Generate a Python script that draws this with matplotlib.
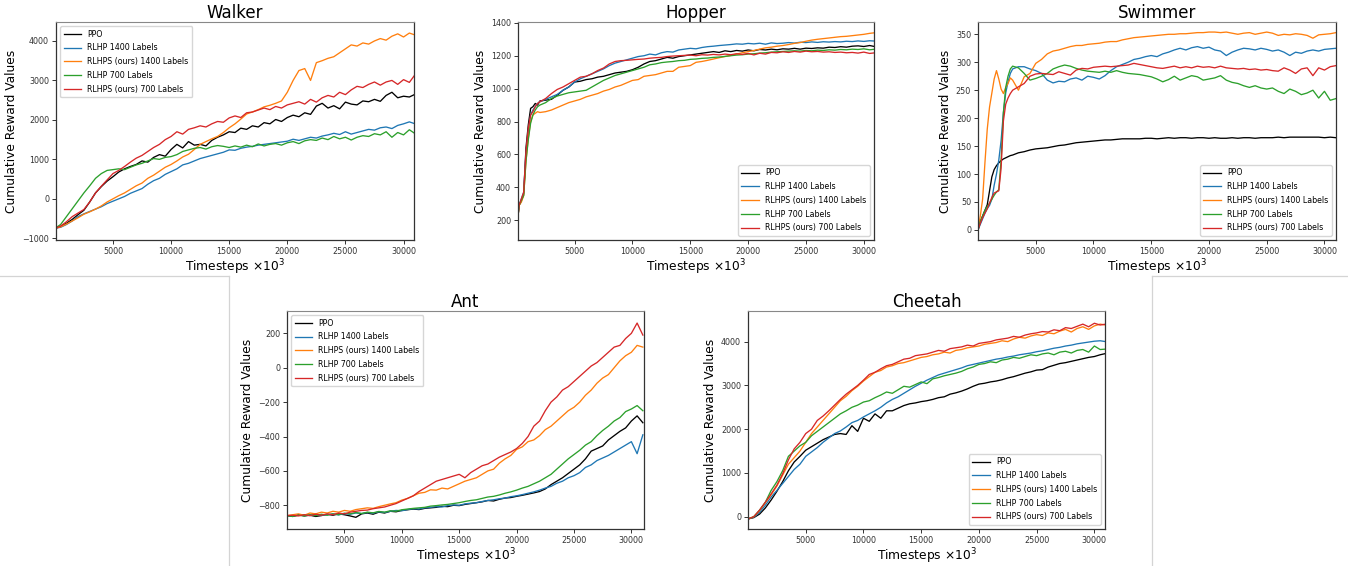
import numpy as np
import matplotlib
matplotlib.use("Agg")
import matplotlib.pyplot as plt
from matplotlib.lines import Line2D

# ---------------- data ----------------
labels = ["PPO", "RLHP 1400 Labels", "RLHPS (ours) 1400 Labels",
          "RLHP 700 Labels", "RLHPS (ours) 700 Labels"]
colors = ["black", "#1f77b4", "#ff7f0e", "#2ca02c", "#d62728"]

steps = np.arange(0, 31001, 500)
hopper_steps = np.concatenate([np.arange(0, 2000, 200), np.arange(2000, 31001, 500)])
swim_steps = np.concatenate([np.arange(0, 3000, 200), np.arange(3000, 31001, 500)])

walker_ppo = [-750, -700, -620, -520, -400, -290, -80, 150, 310, 450,
              560, 680, 760, 820, 870, 960, 930, 1050, 1120, 1080,
              1250, 1380, 1290, 1450, 1360, 1380, 1340, 1480, 1560, 1620,
              1700, 1680, 1790, 1760, 1850, 1820, 1930, 1900, 2010, 1960,
              2060, 2120, 2080, 2180, 2140, 2350, 2420, 2300, 2360, 2280,
              2450, 2400, 2380, 2480, 2460, 2520, 2470, 2620, 2700, 2560,
              2600, 2580, 2650]
walker_rlhp1400 = [-750, -720, -650, -560, -450, -380, -320, -260, -200, -120,
                   -60, 0, 60, 140, 200, 260, 370, 460, 520, 620,
                   690, 760, 860, 900, 960, 1020, 1060, 1100, 1140, 1180,
                   1240, 1230, 1280, 1310, 1330, 1360, 1380, 1400, 1420, 1440,
                   1460, 1510, 1480, 1520, 1560, 1540, 1590, 1620, 1660, 1630,
                   1700, 1640, 1680, 1720, 1760, 1740, 1800, 1820, 1780, 1860,
                   1900, 1950, 1900]
walker_rlhps1400 = [-750, -710, -640, -560, -480, -390, -330, -260, -180, -80,
                    0, 80, 150, 240, 330, 400, 520, 600, 700, 800,
                    870, 960, 1060, 1130, 1250, 1380, 1450, 1520, 1580, 1680,
                    1800, 1900, 2020, 2150, 2200, 2260, 2330, 2370, 2420, 2480,
                    2700, 3000, 3250, 3300, 3000, 3450, 3500, 3560, 3600, 3700,
                    3800, 3900, 3870, 3950, 3920, 4000, 4060, 4020, 4120, 4180,
                    4100, 4200, 4150]
walker_rlhp700 = [-750, -650, -450, -250, -50, 150, 330, 520, 640, 720,
                  740, 760, 740, 800, 860, 900, 960, 1020, 1000, 1050,
                  1070, 1120, 1200, 1240, 1280, 1300, 1260, 1320, 1350, 1330,
                  1300, 1340, 1310, 1360, 1320, 1390, 1340, 1380, 1400, 1360,
                  1420, 1450, 1400, 1470, 1500, 1480, 1540, 1500, 1580, 1520,
                  1560, 1490, 1560, 1600, 1580, 1650, 1620, 1700, 1560, 1680,
                  1620, 1750, 1650]
walker_rlhps700 = [-750, -690, -580, -450, -360, -270, -80, 150, 320, 480,
                   640, 720, 820, 930, 1030, 1100, 1200, 1300, 1380, 1500,
                   1580, 1700, 1640, 1760, 1800, 1850, 1820, 1900, 1960, 1940,
                   2050, 2100, 2060, 2180, 2200, 2250, 2300, 2260, 2340, 2300,
                   2380, 2420, 2460, 2400, 2520, 2450, 2560, 2620, 2580, 2700,
                   2640, 2760, 2850, 2820, 2900, 2960, 2880, 2960, 3000, 2900,
                   3020, 2950, 3150]

hopper_ppo = [140, 290, 320, 360, 640, 780, 880, 890, 910, 900,
              925, 930, 935, 960, 990, 1010, 1040, 1045, 1055, 1060,
              1070, 1075, 1085, 1095, 1100, 1105, 1115, 1130, 1150, 1165,
              1170, 1180, 1190, 1185, 1195, 1200, 1205, 1210, 1215, 1220,
              1225, 1220, 1230, 1225, 1232, 1228, 1235, 1230, 1238, 1235,
              1240, 1236, 1242, 1240, 1245, 1240, 1246, 1244, 1248, 1246,
              1252, 1250, 1255, 1252, 1258, 1260, 1256, 1262, 1255]
hopper_rlhp1400 = [140, 290, 330, 370, 600, 740, 840, 870, 890, 910,
                   920, 935, 950, 965, 990, 1010, 1040, 1060, 1075, 1090,
                   1105, 1120, 1140, 1155, 1165, 1175, 1185, 1195, 1200, 1210,
                   1205, 1218, 1225, 1222, 1235, 1240, 1245, 1242, 1250, 1255,
                   1258, 1262, 1265, 1268, 1272, 1270, 1275, 1272, 1276, 1270,
                   1278, 1274, 1276, 1280, 1277, 1282, 1280, 1284, 1281, 1285,
                   1283, 1286, 1284, 1288, 1286, 1290, 1287, 1291, 1289]
hopper_rlhps1400 = [140, 290, 310, 350, 560, 700, 800, 840, 850, 860,
                    855, 860, 870, 885, 900, 915, 925, 935, 950, 960,
                    970, 985, 995, 1010, 1020, 1035, 1050, 1055, 1075, 1080,
                    1085, 1095, 1105, 1105, 1130, 1135, 1140, 1160, 1165, 1172,
                    1180, 1188, 1195, 1202, 1210, 1218, 1225, 1232, 1240, 1248,
                    1252, 1258, 1262, 1268, 1275, 1280, 1288, 1295, 1300, 1304,
                    1308, 1312, 1316, 1318, 1322, 1326, 1330, 1336, 1340]
hopper_rlhp700 = [140, 290, 320, 350, 560, 690, 790, 840, 870, 890,
                  900, 915, 940, 955, 965, 975, 980, 985, 990, 1010,
                  1030, 1050, 1065, 1080, 1090, 1100, 1110, 1120, 1130, 1145,
                  1150, 1158, 1162, 1165, 1170, 1172, 1178, 1180, 1184, 1186,
                  1190, 1192, 1196, 1200, 1204, 1206, 1210, 1212, 1216, 1218,
                  1222, 1224, 1226, 1228, 1230, 1228, 1232, 1230, 1234, 1232,
                  1236, 1234, 1238, 1236, 1240, 1238, 1242, 1236, 1240]
hopper_rlhps700 = [140, 290, 330, 370, 620, 760, 840, 860, 890, 910,
                   920, 940, 970, 995, 1010, 1030, 1050, 1070, 1075, 1090,
                   1110, 1125, 1150, 1165, 1170, 1172, 1175, 1178, 1180, 1185,
                   1188, 1190, 1195, 1198, 1200, 1202, 1204, 1200, 1206, 1204,
                   1208, 1205, 1210, 1206, 1212, 1208, 1214, 1205, 1215, 1210,
                   1220, 1218, 1224, 1220, 1226, 1222, 1228, 1224, 1226, 1222,
                   1224, 1220, 1222, 1218, 1220, 1216, 1222, 1214, 1218]

swim_ppo = [0, 15, 25, 35, 45, 70, 95, 108, 115, 120, 124, 127, 129, 131, 133,
            134, 138, 140, 143, 145, 146, 147, 149, 151, 152,
            154, 156, 157, 158, 159, 160, 161, 161, 162, 163,
            163, 163, 163, 164, 164, 163, 164, 165, 164, 165,
            165, 164, 165, 165, 164, 165, 164, 164, 165, 164,
            165, 165, 164, 165, 165, 165, 166, 165, 166, 166,
            166, 166, 166, 166, 165, 166, 165]
swim_rlhp1400 = [0, 10, 20, 30, 38, 44, 55, 80, 100, 125, 160, 210, 245, 265, 280,
                 288, 292, 292, 288, 285, 280, 268, 263, 266, 265,
                 270, 272, 268, 275, 273, 270, 276, 285, 292, 296,
                 300, 305, 307, 310, 312, 310, 315, 318, 322, 325,
                 322, 326, 328, 325, 327, 322, 320, 312, 318, 322,
                 325, 324, 322, 325, 323, 320, 322, 318, 312, 318,
                 316, 320, 322, 320, 323, 324, 325]
swim_rlhps1400 = [0, 25, 55, 120, 180, 220, 245, 270, 285, 270, 252, 244, 255, 262, 272,
                  268, 250, 274, 280, 298, 305, 315, 320, 322, 325,
                  328, 330, 330, 332, 333, 334, 336, 337, 337, 340,
                  342, 344, 345, 346, 347, 348, 349, 350, 350, 351,
                  351, 352, 353, 353, 354, 354, 353, 354, 352, 350,
                  352, 353, 350, 352, 354, 352, 348, 350, 349, 351,
                  350, 348, 343, 349, 350, 351, 353]
swim_rlhp700 = [0, 15, 25, 35, 42, 48, 55, 62, 68, 72, 125, 210, 255, 275, 288,
                293, 290, 280, 268, 271, 275, 280, 288, 292, 295,
                293, 289, 286, 284, 283, 282, 284, 282, 285, 282,
                280, 279, 278, 276, 274, 270, 265, 269, 275, 268,
                272, 276, 274, 268, 270, 272, 276, 268, 264, 262,
                258, 255, 258, 254, 252, 254, 248, 244, 252, 248,
                242, 245, 250, 236, 248, 232, 235]
swim_rlhps700 = [0, 12, 22, 30, 38, 48, 58, 66, 68, 70, 110, 195, 225, 236, 244,
                 250, 256, 262, 275, 279, 280, 279, 278, 283, 280,
                 277, 286, 289, 288, 291, 292, 293, 292, 293, 294,
                 295, 298, 296, 294, 292, 290, 289, 291, 293, 290,
                 292, 290, 293, 291, 292, 290, 293, 290, 289, 288,
                 289, 287, 288, 286, 287, 285, 284, 290, 286, 280,
                 288, 290, 276, 290, 286, 292, 294]

ant_ppo = [-860, -865, -855, -862, -858, -865, -860, -852, -858, -850,
           -855, -862, -870, -850, -845, -852, -840, -845, -835, -838,
           -830, -826, -822, -825, -818, -815, -812, -806, -808, -800,
           -802, -795, -790, -785, -780, -772, -775, -765, -758, -755,
           -748, -742, -735, -728, -720, -705, -680, -660, -640, -615,
           -590, -565, -530, -485, -470, -455, -420, -395, -370, -350,
           -310, -280, -320]
ant_rlhp1400 = [-860, -862, -858, -855, -860, -852, -858, -855, -850, -856,
                -848, -852, -845, -848, -842, -846, -838, -842, -835, -830,
                -832, -825, -820, -822, -815, -812, -808, -810, -802, -798,
                -800, -792, -788, -785, -778, -772, -768, -762, -758, -750,
                -745, -738, -730, -722, -712, -700, -690, -672, -660, -640,
                -628, -610, -580, -565, -540, -525, -510, -490, -470, -450,
                -430, -500, -390]
ant_rlhps1400 = [-860, -855, -850, -858, -845, -850, -840, -845, -835, -840,
                 -830, -835, -825, -820, -815, -818, -808, -800, -792, -785,
                 -770, -760, -745, -730, -725, -710, -712, -700, -705, -690,
                 -675, -660, -650, -640, -620, -600, -590, -555, -530, -510,
                 -475, -460, -430, -420, -395, -360, -340, -310, -280, -250,
                 -230, -200, -160, -130, -90, -60, -40, 0, 40, 70,
                 90, 130, 120]
ant_rlhp700 = [-860, -865, -858, -862, -855, -860, -852, -858, -850, -855,
               -846, -850, -842, -848, -840, -844, -836, -840, -832, -835,
               -826, -822, -818, -815, -812, -805, -802, -798, -795, -790,
               -785, -778, -772, -768, -760, -752, -748, -740, -730, -722,
               -712, -700, -690, -675, -660, -640, -620, -590, -560, -530,
               -505, -480, -450, -430, -395, -365, -340, -310, -290, -255,
               -240, -220, -250]
ant_rlhps700 = [-860, -858, -862, -855, -860, -852, -858, -850, -855, -845,
                -850, -840, -835, -830, -828, -820, -815, -810, -800, -790,
                -775, -760, -745, -720, -700, -680, -660, -650, -640, -630,
                -620, -640, -610, -590, -570, -560, -540, -520, -505, -490,
                -470, -440, -400, -340, -310, -250, -200, -170, -130, -110,
                -80, -50, -20, 10, 30, 60, 90, 120, 130, 170,
                200, 260, 190]

cheetah_ppo = [-50, -20, 60, 200, 380, 580, 800, 1050, 1250, 1380,
               1520, 1600, 1680, 1760, 1820, 1880, 1900, 1880, 2080, 1950,
               2250, 2180, 2350, 2250, 2420, 2420, 2480, 2540, 2580, 2600,
               2630, 2650, 2680, 2720, 2740, 2800, 2830, 2870, 2920, 2980,
               3030, 3050, 3080, 3100, 3130, 3170, 3200, 3240, 3280, 3310,
               3350, 3360, 3420, 3460, 3500, 3520, 3550, 3580, 3610, 3640,
               3660, 3700, 3730]
cheetah_rlhp1400 = [-50, -10, 100, 260, 450, 600, 760, 920, 1080, 1200,
                    1380, 1480, 1580, 1700, 1800, 1900, 1960, 2050, 2150, 2200,
                    2280, 2350, 2420, 2500, 2600, 2680, 2740, 2820, 2900, 2980,
                    3050, 3120, 3180, 3240, 3280, 3320, 3360, 3400, 3450, 3480,
                    3510, 3540, 3570, 3600, 3620, 3650, 3670, 3700, 3720, 3740,
                    3770, 3790, 3820, 3850, 3870, 3900, 3920, 3950, 3970, 3990,
                    4010, 4020, 4000]
cheetah_rlhps1400 = [-50, 0, 140, 320, 500, 700, 950, 1200, 1350, 1500,
                     1700, 1900, 2050, 2200, 2350, 2500, 2650, 2750, 2880, 2980,
                     3100, 3200, 3300, 3340, 3420, 3450, 3500, 3520, 3560, 3600,
                     3640, 3660, 3700, 3720, 3760, 3740, 3800, 3820, 3860, 3880,
                     3900, 3940, 3960, 3980, 4020, 4000, 4060, 4100, 4080, 4130,
                     4160, 4140, 4200, 4180, 4240, 4280, 4220, 4300, 4340, 4280,
                     4360, 4400, 4380]
cheetah_rlhp700 = [-50, 0, 150, 330, 600, 800, 1050, 1380, 1500, 1620,
                   1700, 1850, 1950, 2050, 2150, 2250, 2350, 2420, 2500, 2550,
                   2620, 2650, 2720, 2780, 2850, 2820, 2900, 2980, 2960, 3020,
                   3080, 3040, 3150, 3180, 3220, 3250, 3280, 3320, 3380, 3420,
                   3480, 3500, 3540, 3520, 3580, 3600, 3640, 3620, 3660, 3700,
                   3680, 3720, 3740, 3700, 3760, 3780, 3740, 3800, 3820, 3760,
                   3900, 3820, 3830]
cheetah_rlhps700 = [-50, 0, 150, 330, 520, 720, 980, 1300, 1550, 1700,
                    1900, 2000, 2200, 2300, 2420, 2550, 2680, 2800, 2900, 3000,
                    3120, 3250, 3300, 3380, 3450, 3480, 3540, 3600, 3620, 3680,
                    3700, 3720, 3760, 3800, 3780, 3840, 3860, 3880, 3920, 3900,
                    3960, 3980, 4000, 4040, 4060, 4080, 4120, 4100, 4150, 4180,
                    4200, 4230, 4220, 4270, 4250, 4320, 4300, 4350, 4400, 4340,
                    4420, 4380, 4400]

x_ticks = [5000, 10000, 15000, 20000, 25000, 30000]

# ---------------- figure ----------------
fig = plt.figure(figsize=(13.48, 5.66), dpi=100)

panels = [
    dict(title="Walker", rect=[56, 22, 358, 218], x=steps,
         ys=[walker_ppo, walker_rlhp1400, walker_rlhps1400, walker_rlhp700, walker_rlhps700],
         xlim=(100, 30900), ylim=(-1043, 4480), yticks=[-1000, 0, 1000, 2000, 3000, 4000],
         loc="upper left"),
    dict(title="Hopper", rect=[518, 22, 356, 218], x=hopper_steps,
         ys=[hopper_ppo, hopper_rlhp1400, hopper_rlhps1400, hopper_rlhp700, hopper_rlhps700],
         xlim=(110, 30880), ylim=(80, 1405), yticks=[200, 400, 600, 800, 1000, 1200, 1400],
         loc="lower right"),
    dict(title="Swimmer", rect=[978, 22, 358, 218], x=swim_steps,
         ys=[swim_ppo, swim_rlhp1400, swim_rlhps1400, swim_rlhp700, swim_rlhps700],
         xlim=(0, 31000), ylim=(-18, 372), yticks=[0, 50, 100, 150, 200, 250, 300, 350],
         loc="lower right"),
    dict(title="Ant", rect=[287, 311, 357, 218], x=steps,
         ys=[ant_ppo, ant_rlhp1400, ant_rlhps1400, ant_rlhp700, ant_rlhps700],
         xlim=(0, 31100), ylim=(-938, 330), yticks=[-800, -600, -400, -200, 0, 200],
         loc="upper left"),
    dict(title="Cheetah", rect=[748, 311, 357, 218], x=steps,
         ys=[cheetah_ppo, cheetah_rlhp1400, cheetah_rlhps1400, cheetah_rlhp700, cheetah_rlhps700],
         xlim=(0, 30920), ylim=(-280, 4700), yticks=[0, 1000, 2000, 3000, 4000],
         loc="lower right"),
]

W, H = 1348.0, 566.0
for p in panels:
    l, t, w, h = p["rect"]
    ax = fig.add_axes([l / W, (H - t - h) / H, w / W, h / H])
    for y, c, lab in zip(p["ys"], colors, labels):
        ax.plot(p["x"], y, color=c, lw=0.95, label=lab)
    ax.set_xlim(*p["xlim"])
    ax.set_ylim(*p["ylim"])
    ax.set_xticks(x_ticks)
    ax.set_yticks(p["yticks"])
    ax.tick_params(labelsize=5.8, length=3, width=0.7, pad=2, colors="#333333")
    for side in ("left", "bottom", "right"):
        ax.spines[side].set_color("#333333")
        ax.spines[side].set_linewidth(0.9)
    ax.spines["top"].set_color("#888888")
    ax.spines["top"].set_linestyle((0, (1, 1)))
    ax.set_title(p["title"], fontsize=12, pad=3)
    ax.set_xlabel(r"Timesteps $\times 10^3$", fontsize=8.8, labelpad=1)
    ax.set_ylabel("Cumulative Reward Values", fontsize=8.8, labelpad=3)
    ax.legend(loc=p["loc"], fontsize=5.7, framealpha=0.8, borderpad=0.45,
              labelspacing=0.6, handlelength=2.2, handletextpad=0.8)

# light separator lines around the bottom row
sep = "#d4d4d4"
fig.add_artist(Line2D([0, 229 / W], [1 - 276 / H, 1 - 276 / H], color=sep, lw=0.9))
fig.add_artist(Line2D([229 / W, 229 / W], [0, 1 - 276 / H], color=sep, lw=0.9))
fig.add_artist(Line2D([1152 / W, 1], [1 - 276 / H, 1 - 276 / H], color=sep, lw=0.9))
fig.add_artist(Line2D([1152 / W, 1152 / W], [0, 1 - 276 / H], color=sep, lw=0.9))

fig.savefig("out.png", dpi=100)
